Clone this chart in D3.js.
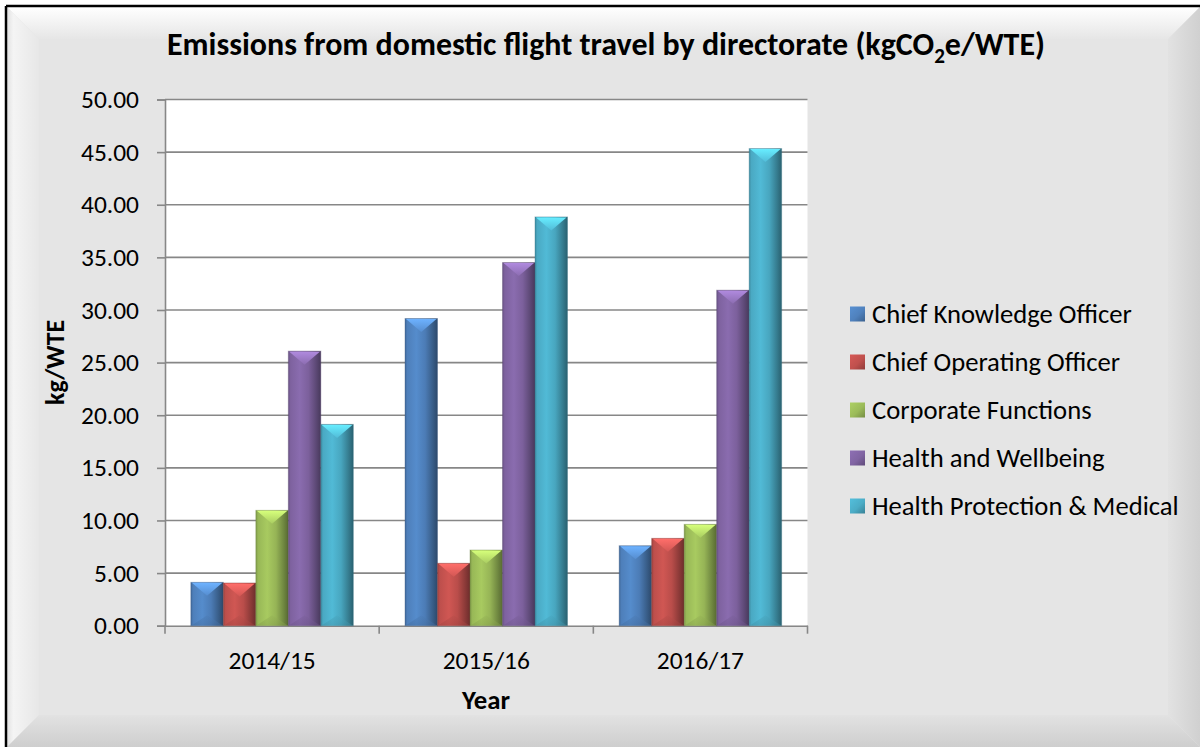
<!DOCTYPE html>
<html>
<head>
<meta charset="utf-8">
<script src="https://cdn.jsdelivr.net/npm/d3@7"></script>
<style>
  html, body { margin: 0; padding: 0; background: #ffffff; }
  svg { display: block; }
  text { font-family: Carlito, Calibri, Lato, "Open Sans", sans-serif; fill: #000; }
</style>
</head>
<body>
<svg id="chart" width="1200" height="747"></svg>
<script>
// Emissions from domestic flight travel, kgCO2e per WTE, by directorate and year
const years = ["2014/15", "2015/16", "2016/17"];
const directorates = [
  "Chief Knowledge Officer",
  "Chief Operating Officer",
  "Corporate Functions",
  "Health and Wellbeing",
  "Health Protection & Medical"
];
const chiefKnowledgeOfficer = [4.12, 29.19, 7.60];
const chiefOperatingOfficer = [4.06, 5.93, 8.30];
const corporateFunctions = [10.96, 7.19, 9.63];
const healthAndWellbeing = [26.09, 34.51, 31.88];
const healthProtectionMedical = [19.13, 38.84, 45.34];
const yTickValues = [0, 5, 10, 15, 20, 25, 30, 35, 40, 45, 50];
const seriesColors = ["#4f81bd", "#c0504d", "#9bbb59", "#8064a2", "#4bacc6"];

const seriesValues = [
  chiefKnowledgeOfficer,
  chiefOperatingOfficer,
  corporateFunctions,
  healthAndWellbeing,
  healthProtectionMedical
];

const svg = d3.select("#chart");
const W = 1200, H = 747;
const defs = svg.append("defs");

// ---- bevelled chart frame ----
const L = 7, T = 7, R = W, B = H, bw = 32;
function linGrad(id, x1, y1, x2, y2, stops) {
  const g = defs.append("linearGradient").attr("id", id)
    .attr("x1", x1).attr("y1", y1).attr("x2", x2).attr("y2", y2);
  stops.forEach(s => g.append("stop").attr("offset", s[0]).attr("stop-color", s[1]));
  return "url(#" + id + ")";
}
svg.append("rect").attr("x", 0).attr("y", 0).attr("width", W).attr("height", H).attr("fill", "#ffffff");
svg.append("rect").attr("x", L).attr("y", T).attr("width", R - L).attr("height", B - T).attr("fill", "#e5e5e5");

const gTop = linGrad("bevTop", 0, 0, 0, 1, [["0%", "#ffffff"], ["100%", "#e6e6e6"]]);
const gLeft = linGrad("bevLeft", 0, 0, 1, 0, [["0%", "#e2e2e2"], ["20%", "#f4f4f4"], ["100%", "#e7e7e7"]]);
const gRight = linGrad("bevRight", 0, 0, 1, 0, [["0%", "#e2e2e2"], ["100%", "#d0d0d0"]]);
const gBottom = linGrad("bevBottom", 0, 0, 0, 1, [["0%", "#e2e2e2"], ["100%", "#cecece"]]);

const poly = (pts, fill) => svg.append("polygon")
  .attr("points", pts.map(p => p.join(",")).join(" ")).attr("fill", fill);
poly([[L, T], [R, T], [R - bw, T + bw], [L + bw, T + bw]], gTop);
poly([[L, T], [L + bw, T + bw], [L + bw, B - bw], [L, B]], gLeft);
poly([[R, T], [R, B], [R - bw, B - bw], [R - bw, T + bw]], gRight);
poly([[L, B], [L + bw, B - bw], [R - bw, B - bw], [R, B]], gBottom);

svg.append("line").attr("x1", L - 1).attr("x2", W).attr("y1", T - 1).attr("y2", T - 1)
  .attr("stroke", "#000").attr("stroke-width", 2.5);
svg.append("line").attr("x1", L - 1).attr("x2", L - 1).attr("y1", T - 1).attr("y2", H)
  .attr("stroke", "#000").attr("stroke-width", 2.5);

// ---- scales ----
const plot = { left: 165, right: 807.5, top: 99.5, bottom: 625.7 };
const x = d3.scaleBand().domain(years).range([plot.left, plot.right]).padding(0);
const xs = d3.scaleBand().domain(d3.range(directorates.length))
  .range([0, x.bandwidth()]).paddingInner(0).paddingOuter(0.795);
const y = d3.scaleLinear().domain([0, 50]).range([plot.bottom, plot.top]);

// plot area
svg.append("rect").attr("x", plot.left).attr("y", plot.top)
  .attr("width", plot.right - plot.left).attr("height", plot.bottom - plot.top)
  .attr("fill", "#ffffff");

const gridColor = "#878787";
// horizontal gridlines
svg.append("g").selectAll("line").data(yTickValues.filter(v => v > 0)).join("line")
  .attr("x1", plot.left).attr("x2", plot.right)
  .attr("y1", d => y(d)).attr("y2", d => y(d))
  .attr("stroke", gridColor).attr("stroke-width", 1.6);

// helper to size text so it spans a given width
function fitFont(sel, target, base) {
  sel.style("font-size", base + "px");
  const w = sel.node().getComputedTextLength();
  const size = base * target / w;
  sel.style("font-size", size + "px");
  return size;
}

// y axis
const yAxis = d3.axisLeft(y).tickValues(yTickValues).tickFormat(d3.format(".2f"))
  .tickSize(8).tickPadding(18);
const yg = svg.append("g").attr("transform", `translate(${plot.left},0)`).call(yAxis);
yg.select(".domain").attr("stroke", gridColor).attr("stroke-width", 1.6);
yg.selectAll(".tick line").attr("stroke", gridColor).attr("stroke-width", 1.6);
const probe = svg.append("text").text("50.00");
const tickSize = fitFont(probe, 58, 20);
probe.remove();
yg.selectAll(".tick text").style("font-size", tickSize + "px")
  .style("font-family", "Carlito, Calibri, Lato, sans-serif").attr("fill", "#000");

// x axis
const xAxis = d3.axisBottom(x).tickSize(0).tickPadding(25);
const xg = svg.append("g").attr("transform", `translate(0,${plot.bottom})`).call(xAxis);
xg.select(".domain").attr("stroke", gridColor).attr("stroke-width", 1.6);
xg.selectAll(".tick text").style("font-size", tickSize + "px")
  .style("font-family", "Carlito, Calibri, Lato, sans-serif").attr("fill", "#000");
// category boundary ticks
const bounds = years.map(d => x(d)).concat([x(years[years.length - 1]) + x.bandwidth()]);
svg.append("g").selectAll("line").data(bounds).join("line")
  .attr("x1", d => d).attr("x2", d => d)
  .attr("y1", plot.bottom).attr("y2", plot.bottom + 8)
  .attr("stroke", gridColor).attr("stroke-width", 1.6);

// ---- bar shading ----
seriesColors.forEach((c, i) => {
  const col = d3.color(c);
  linGrad("barH" + i, 0, 0, 1, 0, [
    ["0%", col.darker(0.55)],
    ["7%", col.darker(0.05)],
    ["35%", col.brighter(0.22)],
    ["62%", col.darker(0.1)],
    ["85%", col.darker(0.9)],
    ["100%", col.darker(1.6)]
  ]);
  linGrad("barTop" + i, 0, 0, 0, 1, [
    ["0%", col.brighter(0.9)],
    ["100%", col.brighter(0.25)]
  ]);
  linGrad("barBot" + i, 0, 0, 0, 1, [
    ["0%", col.darker(0.1)],
    ["100%", col.darker(0.5)]
  ]);
});

const barsData = [];
seriesValues.forEach((vals, si) => {
  vals.forEach((v, yi) => barsData.push({ s: si, year: years[yi], value: v }));
});

const bars = svg.append("g").selectAll("g").data(barsData).join("g");
bars.append("rect")
  .attr("x", d => x(d.year) + xs(d.s))
  .attr("y", d => y(d.value))
  .attr("width", xs.bandwidth())
  .attr("height", d => y(0) - y(d.value))
  .attr("fill", d => "url(#barH" + d.s + ")")
  .attr("stroke", d => d3.color(seriesColors[d.s]).darker(1.2))
  .attr("stroke-opacity", 0.35)
  .attr("stroke-width", 1);
// light chevron at the top of each bar
bars.append("polygon")
  .attr("points", d => {
    const x0 = x(d.year) + xs(d.s) + 1, x1 = x0 + xs.bandwidth() - 2;
    const y0 = y(d.value) + 0.5, depth = Math.min(13, (y(0) - y(d.value)) / 3);
    return [[x0, y0], [x1, y0], [(x0 + x1) / 2, y0 + depth]].map(p => p.join(",")).join(" ");
  })
  .attr("fill", d => "url(#barTop" + d.s + ")");
// faint bevel at the foot of each bar
bars.append("polygon")
  .attr("points", d => {
    const x0 = x(d.year) + xs(d.s) + 1, x1 = x0 + xs.bandwidth() - 2;
    const y0 = y(0) - 0.5, depth = Math.min(10, (y(0) - y(d.value)) / 3);
    return [[x0, y0], [x1, y0], [(x0 + x1) / 2, y0 - depth]].map(p => p.join(",")).join(" ");
  })
  .attr("fill", d => "url(#barBot" + d.s + ")")
  .attr("opacity", 0.45);

// ---- titles ----
const title = svg.append("text")
  .attr("x", 606).attr("y", 55).attr("text-anchor", "middle")
  .style("font-weight", "bold");
title.append("tspan").text("Emissions from domestic flight travel by directorate (kgCO");
title.append("tspan").attr("dy", 8).attr("class", "sub").text("2");
title.append("tspan").attr("dy", -8).text("e/WTE)");
const titleSize = fitFont(title, 878, 24);
title.select(".sub").style("font-size", (titleSize * 0.66) + "px");
fitFont(title, 878, titleSize);
title.select(".sub").style("font-size", (parseFloat(title.style("font-size")) * 0.66) + "px");

const yTitle = svg.append("text")
  .attr("transform", "translate(64,362.5) rotate(-90)")
  .attr("text-anchor", "middle").style("font-weight", "bold").text("kg/WTE");
fitFont(yTitle, 85, 20);

const xTitle = svg.append("text")
  .attr("x", 486).attr("y", 709).attr("text-anchor", "middle")
  .style("font-weight", "bold").text("Year");
fitFont(xTitle, 48, 20);

// ---- legend ----
const legend = svg.append("g").selectAll("g").data(directorates).join("g")
  .attr("transform", (d, i) => `translate(850,${314 + i * 48})`);
seriesColors.forEach((c, i) => {
  const col = d3.color(c);
  linGrad("leg" + i, 0, 0, 1, 1, [["0%", col.brighter(0.3)], ["55%", col], ["100%", col.darker(0.8)]]);
});
legend.append("rect").attr("x", 0).attr("y", -7.5).attr("width", 15).attr("height", 15)
  .attr("fill", (d, i) => "url(#leg" + i + ")");
const legendText = legend.append("text").attr("x", 22).attr("dy", "0.35em").text(d => d);
const lp = svg.append("text").text(directorates[0]);
const legSize = fitFont(lp, 260, 20);
lp.remove();
legendText.style("font-size", legSize + "px");
</script>
</body>
</html>
